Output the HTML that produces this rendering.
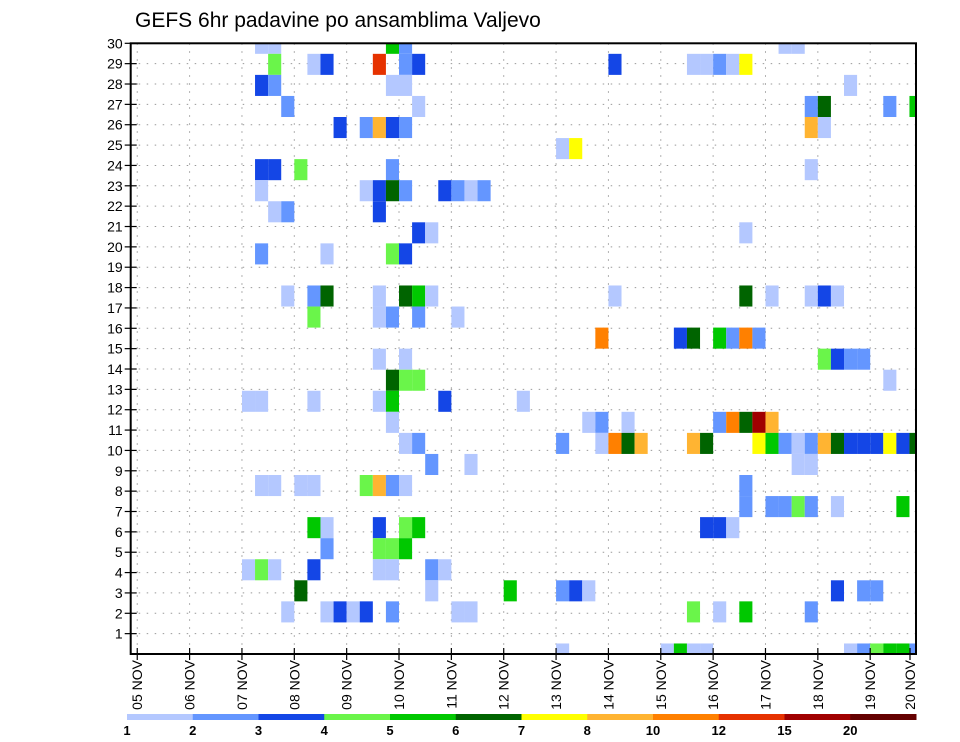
<!DOCTYPE html>
<html><head><meta charset="utf-8"><style>
html,body{margin:0;padding:0;background:#fff;}
svg{display:block;font-family:"Liberation Sans",sans-serif;}
</style></head><body>
<svg id="chart" width="960" height="742" viewBox="0 0 960 742">
<text x="135" y="27" font-size="21" fill="#000">GEFS 6hr padavine po ansamblima Valjevo</text>
<g id="grid"></g>
<g id="cells"></g>
<g id="axes"></g>
<g id="legend"></g>
</svg>
<script>
// data: time index (6h steps from 05 NOV), member row index, precip value
const timeIdx = [10,11,20,21,50,51, 11,14,15,19,21,22,37,43,44,45,46,47, 10,11,20,21,55, 12,22,52,53,58,60, 16,18,19,20,21,52,53, 33,34, 10,11,13,20,52, 10,18,19,20,21,24,25,26,27, 11,12,19, 22,23,47, 10,15,20,21, 12,14,15,19,21,22,23,37,47,49,52,53,54, 14,19,20,22,25, 36,42,43,45,46,47,48, 19,21,53,54,55,56, 20,21,22,58, 9,10,14,19,20,24,30, 20,35,36,38,45,46,47,48,49, 21,22,33,36,37,38,39,43,44,48,49,50,51,52,53,54,55,56,57,58,59,60, 23,26,51,52, 10,11,13,14,18,19,20,21,47, 47,49,50,51,52,54,59, 14,15,19,21,22,44,45,46, 15,19,20,21, 9,10,11,14,19,20,23,24, 13,23,29,33,34,35,54,56,57, 12,15,16,17,18,20,25,26,43,45,47,52, 33,41,42,43,44,55,56,57,58,59,60];
const memberIdx = [29,29,29,29,29,29, 28,28,28,28,28,28,28,28,28,28,28,28, 27,27,27,27,27, 26,26,26,26,26,26, 25,25,25,25,25,25,25, 24,24, 23,23,23,23,23, 22,22,22,22,22,22,22,22,22, 21,21,21, 20,20,20, 19,19,19,19, 17,17,17,17,17,17,17,17,17,17,17,17,17, 16,16,16,16,16, 15,15,15,15,15,15,15, 14,14,14,14,14,14, 13,13,13,13, 12,12,12,12,12,12,12, 11,11,11,11,11,11,11,11,11, 10,10,10,10,10,10,10,10,10,10,10,10,10,10,10,10,10,10,10,10,10,10, 9,9,9,9, 8,8,8,8,8,8,8,8,8, 7,7,7,7,7,7,7, 6,6,6,6,6,6,6,6, 5,5,5,5, 4,4,4,4,4,4,4,4, 3,3,3,3,3,3,3,3,3, 2,2,2,2,2,2,2,2,2,2,2,2, 0,0,0,0,0,0,0,0,0,0,0];
const precip = [1,1,5,2,1,1, 4,1,3,13,2,3,3,1,1,2,1,7, 3,2,1,1,1, 2,1,2,6,2,5, 3,2,9,3,2,9,1, 1,7, 3,3,4,2,1, 1,1,3,6,2,3,2,1,2, 1,2,3, 3,1,1, 2,1,4,3, 1,2,6,1,6,5,1,1,6,1,1,3,1, 4,1,2,2,1, 11,3,6,5,2,11,2, 1,1,4,3,2,2, 6,4,4,1, 1,1,1,1,5,3,1, 1,1,2,1,2,11,6,17,9, 1,2,2,1,11,6,9,9,6,7,5,2,1,2,9,6,3,3,3,7,3,6, 2,1,1,1, 1,1,1,1,4,9,2,1,2, 2,2,2,4,2,1,5, 5,1,3,4,5,3,3,1, 2,4,4,5, 1,4,1,3,1,1,2,1, 6,1,5,2,3,1,3,2,2, 1,1,3,1,3,2,1,1,4,1,5,2, 1,1,5,1,1,1,2,4,5,5,2];
const yTickLabels = ["1","2","3","4","5","6","7","8","9","10","11","12","13","14","15","16","17","18","19","20","21","22","23","24","25","26","27","28","29","30"];
const dayLabels = ["05 NOV","06 NOV","07 NOV","08 NOV","09 NOV","10 NOV","11 NOV","12 NOV","13 NOV","14 NOV","15 NOV","16 NOV","17 NOV","18 NOV","19 NOV","20 NOV"];
const levelLabels = ["1","2","3","4","5","6","7","8","10","12","15","20"];
const levelValues = [1,2,3,4,5,6,7,8,10,12,15,20];
const levelColors = ["#b4c8ff","#6496ff","#1446e6","#6af54a","#00c800","#006400","#ffff00","#ffb432","#ff8000","#e63200","#a00000","#640000"];

const NS="http://www.w3.org/2000/svg";
const L=130.7,R=916,T=43.3,B=654;
const nT=60,nM=29;
const cw=(R-L)/nT, ch=(B-T)/nM;
function xT(i){return L+i*cw;}
function yM(j){return B-j*ch;}
function yLab(k){return B-k*(B-T)/30;}
function xDay(d){return L+(4*d+0.5)*cw;}
function colorOf(v){let c=levelColors[0];for(let k=0;k<levelValues.length;k++){if(v>=levelValues[k])c=levelColors[k];}return c;}
function mk(tag,attrs,parent){const e=document.createElementNS(NS,tag);for(const k in attrs)e.setAttribute(k,attrs[k]);parent.appendChild(e);return e;}

const grid=document.getElementById('grid');
for(let k=1;k<=30;k++){
  const l=mk('line',{x1:L,x2:R,y1:yLab(k),y2:yLab(k),stroke:'#999','stroke-width':1,'stroke-dasharray':'1.5 6.5'},grid);
  
  
}
for(let d=0;d<15;d++){
  const l=mk('line',{x1:xDay(d),x2:xDay(d),y1:T,y2:B,stroke:'#999','stroke-width':1,'stroke-dasharray':'1.5 6.5'},grid);
  
  
}

const cells=document.getElementById('cells');
for(let n=0;n<timeIdx.length;n++){
  let x0=xT(timeIdx[n])-cw/2,x1=x0+cw,y0=yM(memberIdx[n])-ch/2,y1=y0+ch;
  x0=Math.max(x0,L);x1=Math.min(x1,R);y0=Math.max(y0,T);y1=Math.min(y1,B);
  const r=mk('rect',{x:x0,y:y0,width:x1-x0,height:y1-y0,fill:colorOf(precip[n])},cells);
  
  
}

const axes=document.getElementById('axes');
const frame=mk('rect',{x:L,y:T,width:R-L,height:B-T,fill:'none',stroke:'#000','stroke-width':2},axes);


for(let k=1;k<=30;k++){
  const tk=mk('line',{x1:L-6,x2:L+6,y1:yLab(k),y2:yLab(k),stroke:'#000','stroke-width':1.2},axes);
  
  
  const t=mk('text',{x:L-8,y:yLab(k)+5,'font-size':14,'text-anchor':'end',fill:'#000'},axes);
  t.textContent=yTickLabels[k-1];
  
  
}
for(let d=0;d<16;d++){
  let x=d<15?xDay(d):910;
  const tk=mk('line',{x1:x,x2:x,y1:B-6,y2:B+6,stroke:'#000','stroke-width':1.2},axes);
  
  
  const t=mk('text',{x:0,y:0,'font-size':14,'text-anchor':'end',fill:'#000',transform:'translate('+(x+5)+','+(B+6)+') rotate(-90)'},axes);
  t.textContent=dayLabels[d];
  
  
}

const legend=document.getElementById('legend');
const lx0=127,lx1=916,segW=(lx1-lx0)/levelColors.length;
for(let k=0;k<levelColors.length;k++){
  const r=mk('rect',{x:lx0+k*segW,y:714,width:segW+0.5,height:6,fill:levelColors[k]},legend);
  
  
  const t=mk('text',{x:lx0+k*segW,y:735,'font-size':13,'font-weight':'bold','text-anchor':'middle',fill:'#000'},legend);
  t.textContent=levelLabels[k];
  
  
}
</script>
</body></html>
